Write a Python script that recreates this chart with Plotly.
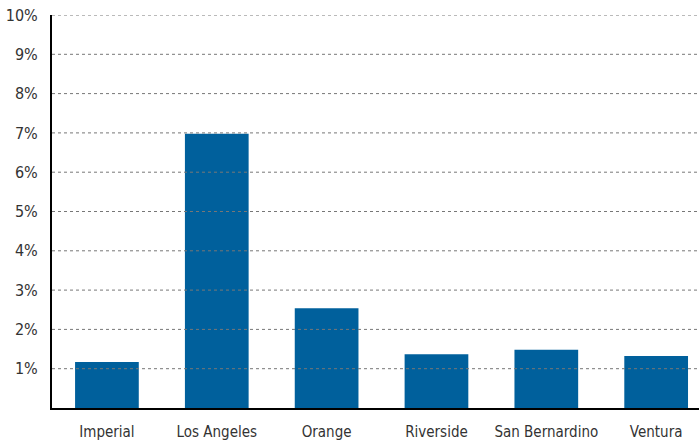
import plotly.graph_objects as go

categories = ["Imperial", "Los Angeles", "Orange", "Riverside", "San Bernardino", "Ventura"]
values = [1.17, 6.98, 2.54, 1.37, 1.48, 1.32]
tick_vals = [1, 2, 3, 4, 5, 6, 7, 8, 9, 10]
tick_text = [f"{v}%" for v in tick_vals]

FONT = "DejaVu Sans Condensed, sans-serif"

fig = go.Figure(go.Bar(x=categories, y=values, marker_color="#00609c", marker_line_width=0))

for v in tick_vals:
    fig.add_shape(type="line", xref="paper", x0=0, x1=1, yref="y", y0=v, y1=v,
                  line=dict(color="#777777", width=1, dash="dot"), layer="above")

fig.update_layout(
    width=699, height=441,
    margin=dict(l=52, r=0, t=15, b=33, autoexpand=False),
    paper_bgcolor="white", plot_bgcolor="white",
    bargap=0.42,
    showlegend=False,
    font=dict(family=FONT, size=16, color="#333333"),
)
fig.update_xaxes(range=[-0.5, 5.39], showline=True, linecolor="black", linewidth=2,
                 showgrid=False, ticks="", ticklabelstandoff=9, automargin=False,
                 tickfont=dict(size=15))
fig.update_yaxes(range=[0, 10], tickvals=tick_vals, ticktext=tick_text,
                 showline=True, linecolor="black", linewidth=2, showgrid=False,
                 zeroline=False, ticks="", ticklabelstandoff=9, automargin=False,
                 tickfont=dict(size=16))

fig.write_html("out.html", config={"displayModeBar": False},
               post_script="document.body.style.margin='0';")
